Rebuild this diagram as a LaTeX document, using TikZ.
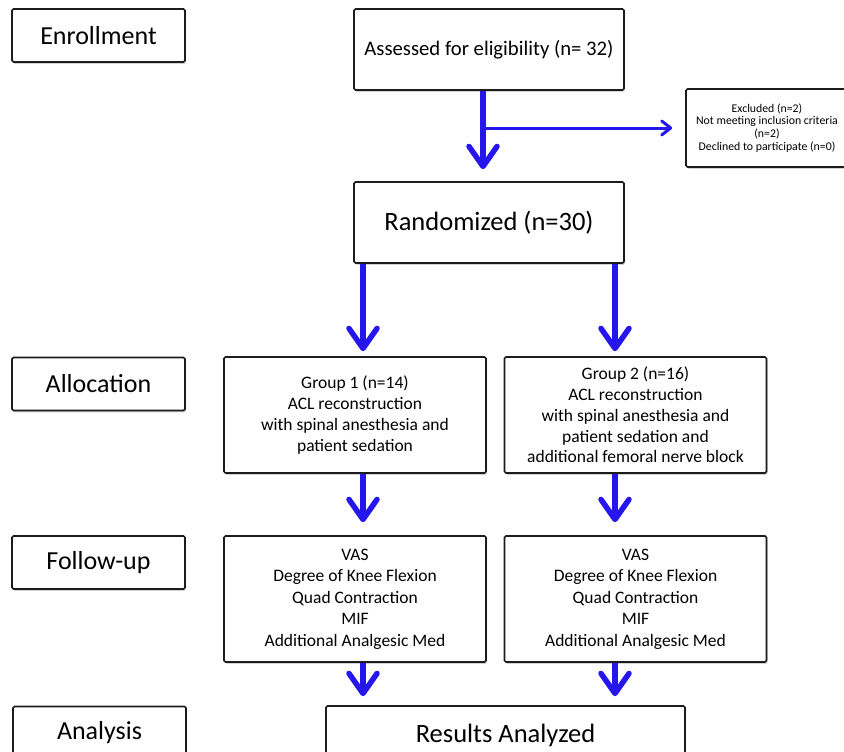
\documentclass[tikz,border=0pt]{standalone}
\usepackage{fontspec}
\setmainfont{Carlito}
\usetikzlibrary{arrows.meta,shadows}
\definecolor{arrblue}{RGB}{38,22,238}
\definecolor{boxline}{RGB}{28,28,28}
\begin{document}
\begin{tikzpicture}[x=1pt,y=-1pt,
  box/.style={draw=boxline, line width=1.6pt, rounded corners=1.5pt, fill=white, inner sep=2pt, align=center,
    drop shadow={shadow xshift=1.2pt, shadow yshift=-1.8pt, opacity=0.35, fill=gray}},
  lab/.style={box, minimum width=173pt, minimum height=53pt, font=\fontsize{26}{30}\selectfont},
  wide/.style={box, minimum width=270pt, minimum height=81pt},
  grp/.style={box, minimum width=262pt, minimum height=116pt, font=\fontsize{17.5}{20.8}\selectfont},
  fu/.style={box, minimum width=262pt, minimum height=126pt, font=\fontsize{17.5}{21.5}\selectfont},
  flow/.style={draw=arrblue, line width=5.5pt, -{Straight Barb[length=20pt,width=28pt,round]}},
  side/.style={draw=arrblue, line width=3pt, -{Straight Barb[length=9pt,width=14pt,round]}}]
\useasboundingbox (0,0) rectangle (844,752);
\clip (0,0) rectangle (844,752);
\fill[white] (0,0) rectangle (844,752);

\node[lab] (enr) at (98.5,35.5) {Enrollment};
\node[wide, font=\fontsize{20.7}{24}\selectfont] (ass) at (489,49.5) {Assessed for eligibility (n= 32)};
\node[box, minimum width=162pt, minimum height=78pt, font=\fontsize{11.8}{12.8}\selectfont] (exc) at (767,128)
  {Excluded (n=2)\\Not meeting inclusion criteria\\(n=2)\\Declined to participate (n=0)};
\node[wide, font=\fontsize{26.5}{30}\selectfont] (ran) at (489,222.5) {Randomized (n=30)};

\node[lab] (all) at (98.5,384) {Allocation};
\node[grp] (g1) at (355,415) {Group 1 (n=14)\\ACL reconstruction\\with spinal anesthesia and\\patient sedation};
\node[grp] (g2) at (635.5,415) {Group 2 (n=16)\\ACL reconstruction\\with spinal anesthesia and\\patient sedation and\\additional femoral nerve block};

\node[lab] (fol) at (98.5,562.5) {Follow-up};
\node[fu] (f1) at (355,599) {VAS\\Degree of Knee Flexion\\Quad Contraction\\MIF\\Additional Analgesic Med};
\node[fu] (f2) at (635.5,599) {VAS\\Degree of Knee Flexion\\Quad Contraction\\MIF\\Additional Analgesic Med};

\node[lab] (ana) at (99.5,733) {Analysis};
\node[box, minimum width=359pt, minimum height=58pt, font=\fontsize{26.5}{30}\selectfont] (res) at (505.5,735) {Results Analyzed};

\coordinate (cL) at (363,0);
\coordinate (cR) at (615,0);
\coordinate (cM) at (483,0);

\draw[flow, shorten >=12pt] (ass.south -| cM) -- (ran.north -| cM);
\draw[side, shorten >=13pt] (ass.south -| cM) |- (exc.west);

\draw[flow, shorten >=5pt] (ran.south -| cL) -- (g1.north -| cL);
\draw[flow, shorten >=5pt] (ran.south -| cR) -- (g2.north -| cR);
\draw[flow, shorten >=13pt] (g1.south -| cL) -- (f1.north -| cL);
\draw[flow, shorten >=13pt] (g2.south -| cR) -- (f2.north -| cR);
\draw[flow, shorten >=9pt] (f1.south -| cL) -- (res.north -| cL);
\draw[flow, shorten >=9pt] (f2.south -| cR) -- (res.north -| cR);
\end{tikzpicture}
\end{document}
